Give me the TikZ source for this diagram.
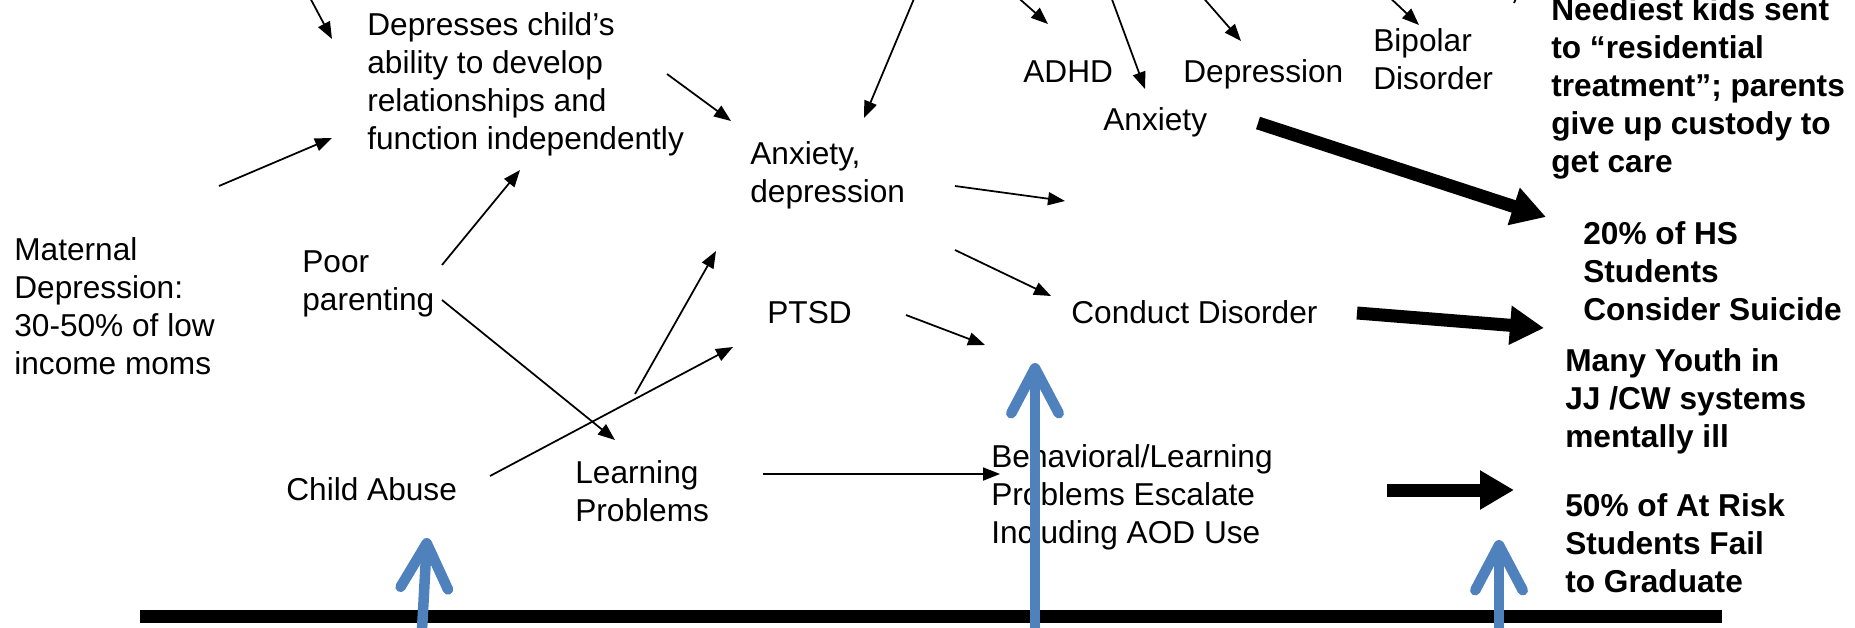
\documentclass[tikz,border=0pt]{standalone}
\usepackage{fontspec}
\setmainfont{Liberation Sans}
\usetikzlibrary{arrows.meta}
\definecolor{liftblue}{RGB}{79,129,189}
\tikzset{
    lbl/.style={anchor=west, inner sep=0pt, align=left, font=\fontsize{18}{21.7}\selectfont},
    key/.style={lbl, font=\fontsize{18}{21.7}\selectfont\bfseries},
    link/.style={line width=0.35mm, -{Triangle[length=3.4mm,width=2.6mm]}},
    push/.style={line width=2.6mm, -{Triangle[length=6.8mm,width=7.4mm]}},
    lift/.style={draw=liftblue, line width=2.1mm, -{Straight Barb[length=9mm,width=9.5mm,round]}}
}
\begin{document}
\begin{tikzpicture}[x=0.2mm,y=-0.2mm]
    \useasboundingbox (0,0) rectangle (1855,627);
    % causes and effects
    \node[lbl] (depress) at (367,84.5) {Depresses child’s\\ability to develop\\relationships and\\function independently};
    \node[lbl] (maternal) at (14,306) {Maternal\\Depression:\\30-50\% of low\\income moms};
    \node[lbl] (parenting) at (302,284) {Poor\\parenting};
    \node[lbl] (anxdep) at (750,175) {Anxiety,\\depression};
    \node[lbl] (adhd) at (1023,72) {ADHD};
    \node[lbl] (depression) at (1183,74) {Depression};
    \node[lbl] (bipolar) at (1373,59) {Bipolar\\Disorder};
    \node[lbl] (anxiety) at (1103,122.5) {Anxiety};
    \node[lbl] (ptsd) at (767,313) {PTSD};
    \node[lbl] (conduct) at (1071,312) {Conduct Disorder};
    \node[lbl] (abuse) at (286,489) {Child Abuse};
    \node[lbl] (learning) at (575,491) {Learning\\Problems};
    \node[lbl] (escalate) at (991,497.5) {Behavioral/Learning\\Problems Escalate\\Including AOD Use};
    % outcomes
    \node[key] (neediest) at (1551,88.5) {Neediest kids sent\\to “residential\\treatment”; parents\\give up custody to\\get care};
    \node[key] (suicide) at (1583,271) {20\% of HS\\Students\\Consider Suicide};
    \node[key] (youth) at (1565,401.5) {Many Youth in\\JJ /CW systems\\mentally ill};
    \node[key] (graduate) at (1565,543) {50\% of At Risk\\Students Fail\\to Graduate};
    % thin links
    \coordinate (topA) at (308,-6);
    \coordinate (depA) at (332,39);
    \coordinate (matB) at (219,186);
    \coordinate (depB) at (332,138);
    \coordinate (parC) at (442,265);
    \coordinate (depC) at (520,170);
    \coordinate (depD) at (667,74);
    \coordinate (anxD) at (731,121);
    \coordinate (topE) at (916,-6);
    \coordinate (anxE) at (864,118);
    \coordinate (topF) at (1014,-6);
    \coordinate (adhF) at (1048,24);
    \coordinate (topG) at (1110,-6);
    \coordinate (anxG) at (1145,89);
    \coordinate (topH) at (1200,-6);
    \coordinate (depH) at (1241,41);
    \coordinate (topI) at (1386,-6);
    \coordinate (bipI) at (1419,25);
    \coordinate (topJ) at (1518,-6);
    \coordinate (endJ) at (1514,3);
    \coordinate (anxK) at (955,186);
    \coordinate (endK) at (1065,201);
    \coordinate (anxL) at (955,250);
    \coordinate (conL) at (1051,296);
    \coordinate (parM) at (442,300);
    \coordinate (lrnM) at (615,440);
    \coordinate (lrnN) at (635,394);
    \coordinate (anxN) at (716,251);
    \coordinate (abuO) at (490,476);
    \coordinate (ptsO) at (733,347);
    \coordinate (ptsP) at (906,315);
    \coordinate (conP) at (985,345);
    \coordinate (lrnQ) at (763,474);
    \coordinate (escQ) at (1000,474);
    \draw[link] (topA)--(depA);
    \draw[link] (matB)--(depB);
    \draw[link] (parC)--(depC);
    \draw[link] (depD)--(anxD);
    \draw[link] (topE)--(anxE);
    \draw[link] (topF)--(adhF);
    \draw[link] (topG)--(anxG);
    \draw[link] (topH)--(depH);
    \draw[link] (topI)--(bipI);
    \draw[line width=0.35mm] (topJ)--(endJ);
    \draw[link] (anxK)--(endK);
    \draw[link] (anxL)--(conL);
    \draw[link] (parM)--(lrnM);
    \draw[link] (lrnN)--(anxN);
    \draw[link] (abuO)--(ptsO);
    \draw[link] (ptsP)--(conP);
    \draw[link] (lrnQ)--(escQ);
    % heavy links
    \coordinate (anxR) at (1258,123);
    \coordinate (suiR) at (1546,217);
    \coordinate (conS) at (1357,313);
    \coordinate (suiS) at (1544,328);
    \coordinate (escT) at (1387,490);
    \coordinate (graT) at (1514,490);
    \draw[push] (anxR)--(suiR);
    \draw[push] (conS)--(suiS);
    \draw[push] (escT)--(graT);
    % base line and lifts
    \coordinate (baseL) at (140,616.5);
    \coordinate (baseR) at (1722,616.5);
    \draw[line width=2.6mm] (baseL)--(baseR);
    \coordinate (botU) at (422,630);
    \coordinate (abuU) at (427,538);
    \coordinate (botV) at (1035,630);
    \coordinate (conV) at (1035,363);
    \coordinate (botW) at (1499,630);
    \coordinate (graW) at (1499,540);
    \draw[lift] (botU)--(abuU);
    \draw[lift] (botV)--(conV);
    \draw[lift] (botW)--(graW);
\end{tikzpicture}
\end{document}
